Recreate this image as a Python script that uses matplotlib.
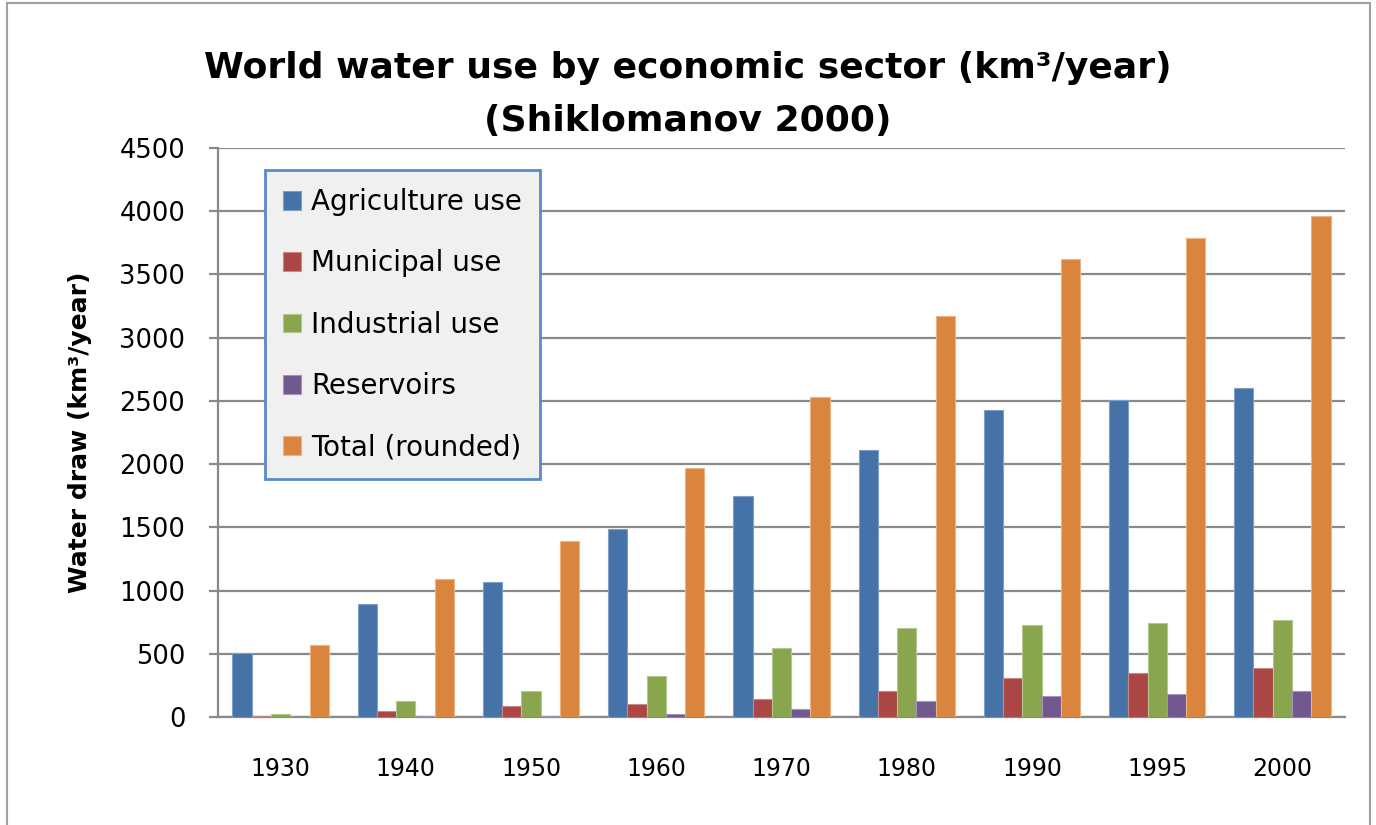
import matplotlib
matplotlib.use("Agg")
import matplotlib.pyplot as plt
import numpy as np
from matplotlib.patches import Rectangle

# World water withdrawals by sector, km3/year (Shiklomanov 2000)
anios = ["1930", "1940", "1950", "1960", "1970", "1980", "1990", "1995", "2000"]
agricultura = [510, 890, 1070, 1490, 1750, 2110, 2430, 2510, 2600]
municipal = [5, 50, 87, 106, 146, 205, 306, 345, 387]
industrial = [27, 130, 205, 324, 546, 703, 725, 746, 766]
embalses = [3, 5, 7, 24, 66, 126, 166, 185, 209]
total = [570, 1090, 1390, 1970, 2530, 3170, 3625, 3785, 3965]

series = [
    ("Agriculture use", agricultura, "#4572A7", "#7f9fc8"),
    ("Municipal use", municipal, "#AA4643", "#c98886"),
    ("Industrial use", industrial, "#89A54E", "#b3c78e"),
    ("Reservoirs", embalses, "#71588F", "#a594ba"),
    ("Total (rounded)", total, "#DB843D", "#ebb486"),
]

GRIS = "#8a8a8a"

fig = plt.figure(figsize=(13.76, 8.25), dpi=100)
ax = fig.add_axes([218 / 1376, 108 / 825, 1127 / 1376, 569 / 825])

# marco exterior del gráfico
fig.patches.append(Rectangle((7 / 1376, -0.05), 1363 / 1376, 1.05 - 3 / 825,
                             transform=fig.transFigure, fill=False,
                             edgecolor="#a0a0a0", linewidth=1.5))

x = np.arange(len(anios))
w = 1 / 6.5
for i, (nombre, valores, color, borde) in enumerate(series):
    ax.bar(x + (i - 2) * w, valores, w, label=nombre, color=color,
           edgecolor=borde, linewidth=0.8, zorder=3)

ax.set_xlim(-0.5, len(anios) - 0.5)
ax.set_ylim(0, 4500)
ax.set_yticks(np.arange(0, 4501, 500))
ax.yaxis.grid(True, color=GRIS, linewidth=1.6, zorder=0)
ax.set_axisbelow(True)
for lado in ["top", "right"]:
    ax.spines[lado].set_visible(False)
for lado in ["left", "bottom"]:
    ax.spines[lado].set_color(GRIS)
    ax.spines[lado].set_linewidth(1.6)

ax.tick_params(axis="y", direction="out", length=6.5, width=1.6, color=GRIS,
               pad=17, labelsize=18.5)
ax.tick_params(axis="x", length=0, pad=29)
ax.set_xticks(x)
ax.set_xticklabels(anios, fontsize=17)

ax.set_ylabel("Water draw (km³/year)", fontsize=18, fontweight="bold",
              labelpad=20)

fig.text(0.5, 1 - 68 / 825, "World water use by economic sector (km³/year)",
         ha="center", va="center", fontsize=26, fontweight="bold")
fig.text(0.5, 1 - 121 / 825, "(Shiklomanov 2000)",
         ha="center", va="center", fontsize=26, fontweight="bold")

leg = ax.legend(loc="upper left", bbox_to_anchor=(265 / 1376, 1 - 170 / 825),
                bbox_transform=fig.transFigure, fontsize=20, fancybox=False,
                framealpha=1, facecolor="#f0f0f0", edgecolor="#5b8ac6",
                handlelength=0.65, handleheight=0.65, handletextpad=0.36,
                labelspacing=1.2, borderpad=0.65, borderaxespad=0)
leg.get_frame().set_linewidth(2)
leg.set_zorder(5)

fig.savefig("out.png", dpi=100)
